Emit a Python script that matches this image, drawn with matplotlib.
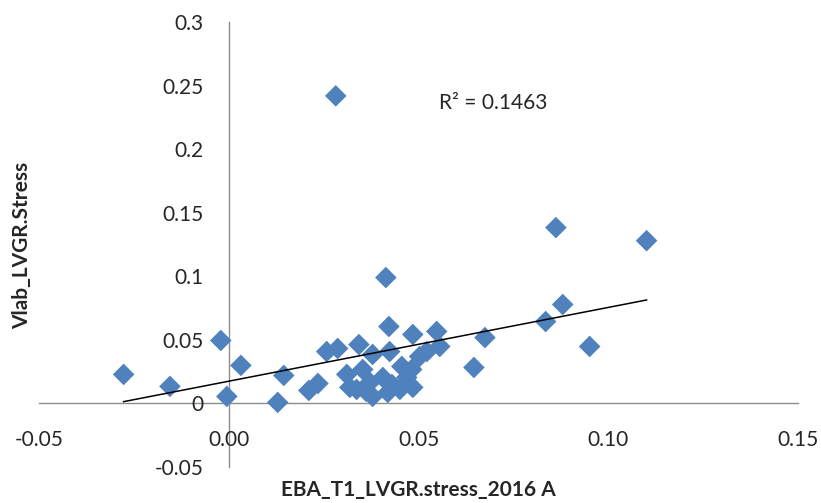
import numpy as np
import matplotlib
matplotlib.use("Agg")
import matplotlib.pyplot as plt

plt.rcParams['font.family'] = ['Lato', 'DejaVu Sans']

# EBA stress (x) vs Vlab stress (y)
eba_stress = [
    -0.0277, -0.0155, -0.0021, 0.0032, -0.0005, 0.0129, 0.0145, 0.0211,
    0.0235, 0.0258, 0.0287, 0.0282, 0.0311, 0.0337, 0.0343, 0.0353,
    0.0372, 0.0379, 0.0379, 0.0406, 0.0414, 0.0422, 0.0424, 0.0430,
    0.0451, 0.0456, 0.0469, 0.0482, 0.0485, 0.0485, 0.0503, 0.0522,
    0.0548, 0.0556, 0.0646, 0.0675, 0.0835, 0.0862, 0.0880, 0.0951,
    0.1101, 0.0319, 0.0419, 0.0362,
]
vlab_stress = [
    0.0228, 0.0134, 0.0495, 0.0299, 0.0055, 0.0008, 0.0220, 0.0102,
    0.0157, 0.0408, 0.0432, 0.2419, 0.0228, 0.0110, 0.0463, 0.0267,
    0.0165, 0.0055, 0.0385, 0.0204, 0.0990, 0.0605, 0.0408, 0.0149,
    0.0110, 0.0291, 0.0204, 0.0267, 0.0126, 0.0542, 0.0369, 0.0408,
    0.0566, 0.0448, 0.0283, 0.0518, 0.0644, 0.1383, 0.0778, 0.0448,
    0.1280, 0.0126, 0.0086, 0.0095,
]
x_ticks = [-0.05, 0.00, 0.05, 0.10, 0.15]
x_tick_labels = ["-0.05", "0.00", "0.05", "0.10", "0.15"]
y_ticks = [-0.05, 0, 0.05, 0.1, 0.15, 0.2, 0.25, 0.3]
y_tick_labels = ["-0.05", "0", "0.05", "0.1", "0.15", "0.2", "0.25", "0.3"]
r2_label = "R² = 0.1463"

x = np.array(eba_stress)
y = np.array(vlab_stress)

fig = plt.figure(figsize=(8.21, 5.03), dpi=100)
ax = fig.add_axes([39 / 821, 1 - 467 / 503, (798 - 39) / 821, (467 - 22) / 503])

ax.scatter(x, y, marker='D', s=11.0 ** 2, color='#4F81BD', edgecolors='none', zorder=3)

# linear trendline across the data range
slope, intercept = np.polyfit(x, y, 1)
xs = np.array([x.min(), x.max()])
ax.plot(xs, slope * xs + intercept, color='black', lw=1.1, zorder=4)

ax.set_xlim(-0.05, 0.15)
ax.set_ylim(-0.05, 0.3)

# axes crossing at the origin
for side in ('top', 'right'):
    ax.spines[side].set_visible(False)
ax.spines['left'].set_position(('data', 0))
ax.spines['bottom'].set_position(('data', 0))
for side in ('left', 'bottom'):
    ax.spines[side].set_color('#8C8C8C')
    ax.spines[side].set_linewidth(1.0)
    ax.spines[side].set_zorder(1)

ax.set_xticks(x_ticks)
ax.set_xticklabels(x_tick_labels)
ax.set_yticks(y_ticks)
ax.set_yticklabels(y_tick_labels)
ax.tick_params(axis='both', length=0, labelsize=15, labelcolor='#262626')
ax.tick_params(axis='x', pad=19)
ax.tick_params(axis='y', pad=18)

ax.text(0.0555, 0.2365, r2_label, fontsize=15, color='#262626', va='center', ha='left')

fig.text(418 / 821, 1 - 490 / 503, "EBA_T1_LVGR.stress_2016 A", fontsize=15,
         fontweight='bold', ha='center', va='center', color='#262626')
fig.text(22 / 821, 1 - 245 / 503, "Vlab_LVGR.Stress", fontsize=15,
         fontweight='bold', ha='center', va='center', rotation=90, color='#262626')

fig.savefig("out.png", dpi=100)
